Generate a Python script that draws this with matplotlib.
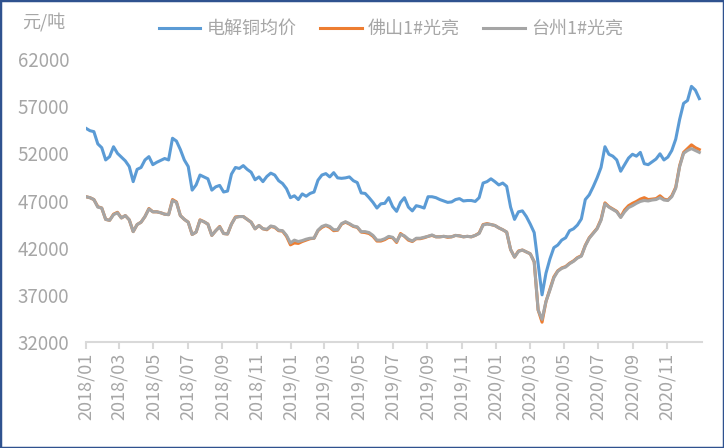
import pandas as pd
import matplotlib
matplotlib.use("Agg")
import matplotlib.pyplot as plt
import matplotlib.dates as mdates
from matplotlib.patches import Rectangle

plt.rcParams['font.family'] = ['Noto Sans CJK SC', 'DejaVu Sans']

# weekly readings, first week starting 2018-01-01
start_date = "2018-01-01"

copper_avg = [
    54650, 54400, 54300, 53000, 52600, 51300, 51650, 52700, 52000, 51600,
    51200, 50600, 49000, 50300, 50500, 51300, 51650, 50800, 51050, 51250,
    51450, 51300, 53600, 53300, 52400, 51300, 50600, 48100, 48650, 49700,
    49500, 49300, 48100, 48450, 48600, 47900, 48000, 49800, 50500, 50400,
    50700, 50300, 50000, 49200, 49500, 49000, 49550, 49900, 49700, 49100,
    48800, 48250, 47300, 47500, 47100, 47700, 47450, 47750, 47900, 49150,
    49700, 49850, 49500, 49950, 49400, 49350, 49400, 49500, 49100, 48900,
    47800, 47750, 47300, 46800, 46200, 46650, 46700, 47300, 46350, 45850,
    46800, 47300, 46300, 45900, 46450, 46350, 46200, 47400, 47400, 47300,
    47100, 46950, 46800, 46850, 47100, 47200, 46950, 47000, 47000, 46900,
    47300, 48850, 49000, 49300, 49000, 48650, 48850, 48500, 46300, 45000,
    45800, 45900, 45300, 44500, 43600, 40300, 37000, 39300, 40800, 42000,
    42280, 42800, 43050, 43800, 44000, 44400, 45050, 47100, 47600, 48450,
    49400, 50500, 52700, 51900, 51700, 51300, 50100, 50800, 51500, 51900,
    51700, 52100, 50900, 50800, 51100, 51400, 51950, 51300, 51600, 52300,
    53500, 55600, 57300, 57600, 59100, 58700, 57800,
]

foshan = [
    47400, 47300, 47100, 46350, 46200, 45000, 44900, 45550, 45750, 45150,
    45400, 44950, 43700, 44450, 44700, 45300, 46150, 45800, 45800, 45700,
    45550, 45500, 47100, 46850, 45400, 45000, 44700, 43400, 43650, 44950,
    44750, 44500, 43300, 43800, 44250, 43500, 43450, 44500, 45250, 45300,
    45300, 45000, 44700, 44000, 44350, 44000, 43900, 44250, 44150, 43800,
    43750, 43200, 42300, 42500, 42450, 42650, 42800, 42950, 43000, 43800,
    44150, 44350, 44150, 43800, 43850, 44500, 44700, 44500, 44250, 44150,
    43650, 43600, 43500, 43200, 42700, 42700, 42850, 43100, 43050, 42550,
    43500, 43200, 42800, 42650, 42950, 42950, 43050, 43200, 43300, 43150,
    43150, 43200, 43100, 43150, 43300, 43250, 43150, 43200, 43150, 43300,
    43550, 44450, 44550, 44450, 44350, 44100, 43900, 43650, 41800, 41000,
    41650, 41750, 41550, 41350, 40500, 35400, 34100, 36300, 37600, 38900,
    39550, 39850, 40000, 40350, 40600, 40950, 41150, 42250, 43050, 43550,
    44050, 45000, 46750, 46350, 46100, 45850, 45250, 46000, 46450, 46700,
    46900, 47150, 47300, 47100, 47150, 47200, 47500, 47150, 47050, 47500,
    48400, 50700, 52100, 52500, 52900, 52600, 52400,
]

taizhou = [
    47400, 47300, 47100, 46300, 46200, 45000, 44900, 45500, 45700, 45150,
    45400, 44950, 43700, 44450, 44700, 45300, 46100, 45800, 45800, 45700,
    45550, 45500, 47000, 46800, 45400, 45000, 44700, 43400, 43650, 44900,
    44750, 44500, 43300, 43800, 44200, 43500, 43450, 44500, 45200, 45300,
    45300, 45000, 44700, 44000, 44350, 44000, 43950, 44300, 44200, 43850,
    43800, 43300, 42500, 42800, 42650, 42750, 42900, 43000, 43000, 43850,
    44250, 44400, 44250, 43900, 43900, 44550, 44750, 44550, 44300, 44200,
    43700, 43700, 43600, 43300, 42800, 42800, 42950, 43200, 43100, 42650,
    43400, 43250, 42900, 42700, 43000, 43000, 43100, 43200, 43350, 43150,
    43150, 43200, 43150, 43150, 43300, 43250, 43150, 43200, 43150, 43300,
    43500, 44400, 44500, 44450, 44350, 44100, 43900, 43650, 41800, 41000,
    41600, 41750, 41550, 41350, 40500, 35400, 34400, 36300, 37500, 38800,
    39500, 39800, 39950, 40300, 40550, 40900, 41100, 42200, 43000, 43500,
    44000, 44900, 46650, 46300, 46050, 45800, 45200, 45800, 46250, 46450,
    46700, 46900, 47000, 46950, 47050, 47100, 47300, 47050, 47000, 47400,
    48300, 50600, 52000, 52300, 52500, 52300, 52100,
]

series_names = ["电解铜均价", "佛山1#光亮", "台州1#光亮"]
series_colors = ["#5B9BD5", "#ED7D31", "#A5A5A5"]

dates = pd.date_range(start_date, periods=len(copper_avg), freq="7D")

fig = plt.figure(figsize=(7.24, 4.48), dpi=100)
ax = fig.add_axes([0.1188, 0.2366, 0.8502, 0.6317])

for vals, name, col in zip([copper_avg, foshan, taizhou], series_names, series_colors):
    ax.plot(dates, vals, color=col, lw=2.2, label=name)

ax.set_ylim(32000, 62000)
ax.set_yticks(range(32000, 62001, 5000))
ax.set_xlim(pd.Timestamp("2018-01-01"), pd.Timestamp("2021-01-01"))
ax.set_xticks(pd.date_range("2018-01-01", "2020-11-01", freq="2MS"))
ax.xaxis.set_major_formatter(mdates.DateFormatter("%Y/%m"))

tick_color = "#A6A6A6"
for s in ["top", "right", "left"]:
    ax.spines[s].set_visible(False)
ax.spines["bottom"].set_color("#D9D9D9")
ax.spines["bottom"].set_linewidth(1.5)
ax.tick_params(axis="x", colors="#D9D9D9", labelcolor=tick_color, length=5,
               width=1.5, labelsize=13, rotation=90, pad=3)
ax.tick_params(axis="y", length=0, labelcolor=tick_color, labelsize=13.5, pad=12)

fig.text(0.031, 0.95, "元/吨", color=tick_color, fontsize=13, va="center", ha="left")

fig.legend(loc="center", bbox_to_anchor=(0.54, 0.935), ncol=3, frameon=False,
           fontsize=13, labelcolor=tick_color, handlelength=2.3,
           handletextpad=0.35, columnspacing=1.3)

fig.add_artist(Rectangle((0, 0), 1, 1, transform=fig.transFigure, fill=False,
                         edgecolor="#2F528F", lw=2.5))

fig.savefig("out.png", dpi=100)
